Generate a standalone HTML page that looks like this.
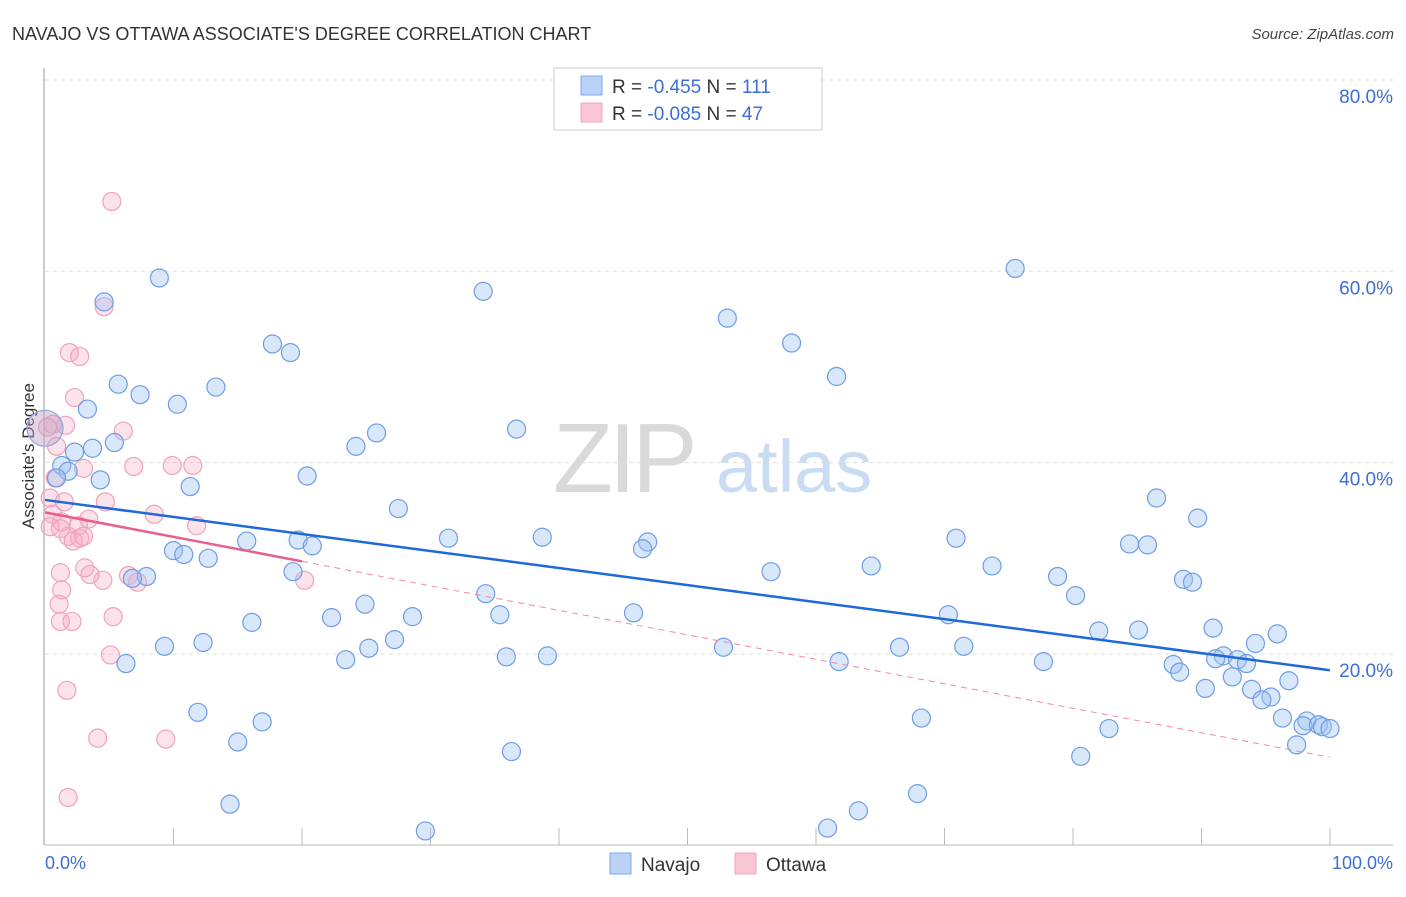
<!DOCTYPE html>
<html><head><meta charset="utf-8"><style>
body{margin:0;background:#fff;font-family:"Liberation Sans",sans-serif;}
svg text{font-family:"Liberation Sans",sans-serif;}
</style></head><body>
<svg width="1406" height="892" viewBox="0 0 1406 892">
<text x="12" y="40" font-size="18" fill="#333">NAVAJO VS OTTAWA ASSOCIATE'S DEGREE CORRELATION CHART</text>
<text x="1394" y="39" font-size="15" fill="#444" font-style="italic" text-anchor="end">Source: ZipAtlas.com</text>
<g>
<text x="553" y="492" font-size="98" fill="#d9d9d9" font-family="Liberation Serif" letter-spacing="-4">ZIP</text>
<text x="716" y="492" font-size="74" fill="#c9dcf3">atlas</text>
</g>
<g id="grid"></g>
<line x1="44" y1="68" x2="44" y2="845" stroke="#bbb" stroke-width="1.5"/>
<line x1="44" y1="845" x2="1393" y2="845" stroke="#bbb" stroke-width="1"/>
<g id="xticks"></g>
<text transform="translate(34,456) rotate(-90)" font-size="17" fill="#333" text-anchor="middle">Associate's Degree</text>
<text x="45" y="869" font-size="18" fill="#3b6fd4">0.0%</text>
<text x="1393" y="869" font-size="18" fill="#3b6fd4" text-anchor="end">100.0%</text>
<g id="pink"></g><g id="blue"></g><g id="trends"></g>
<g>
<rect x="554" y="68" width="268" height="62" fill="#fff" stroke="#ccc"/>
<rect x="581" y="76" width="21" height="19" fill="#b9d2f5" stroke="#7fa8e8"/>
<rect x="581" y="103" width="21" height="19" fill="#fbc6d4" stroke="#f2a6bb"/>
<text x="612" y="93" font-size="19" fill="#333">R = <tspan fill="#3b6fd4">-0.455</tspan>   N = <tspan fill="#3b6fd4">111</tspan></text>
<text x="612" y="120" font-size="19" fill="#333">R = <tspan fill="#3b6fd4">-0.085</tspan>   N = <tspan fill="#3b6fd4">47</tspan></text>
</g>
<g>
<rect x="610" y="853" width="21" height="21" fill="#b9d2f5" stroke="#7fa8e8"/>
<text x="641" y="871" font-size="19" fill="#333">Navajo</text></g>
<g>
<rect x="735" y="853" width="21" height="21" fill="#fbc6d4" stroke="#f2a6bb"/>
<text x="766" y="871" font-size="19" fill="#333">Ottawa</text></g>
</svg>
<script>
const yTicks=[20,40,60,80];
const yTickLabels=["20.0%","40.0%","60.0%","80.0%"];
const xTicks=[10,20,30,40,50,60,70,80,90,100];
const navajoX=[8.9,4.6,34.1,75.5,53.1,58.1,17.7,19.1,61.6,5.7,13.3,7.4,10.3,3.3,36.7,25.8,5.4,3.7,24.2,2.3,1.3,1.8,4.3,0.9,20.4,11.3,27.5,86.5,89.7,31.4,38.7,70.9,15.7,19.7,20.8,46.9,46.5,10.0,10.8,12.7,84.4,85.8,64.3,73.7,56.5,19.3,7.9,6.8,78.8,88.6,89.3,34.3,80.2,24.9,45.8,70.3,22.3,28.6,35.4,16.1,90.9,95.9,82.0,85.1,94.2,12.3,9.3,52.8,66.5,71.5,27.2,25.2,23.4,35.9,39.1,6.3,91.7,91.1,92.8,93.5,61.8,77.7,87.8,88.3,92.4,96.8,90.3,93.9,95.4,94.7,96.3,98.2,97.9,99.1,99.4,100,11.9,16.9,68.2,82.8,15.0,97.4,36.3,80.6,14.4,67.9,63.3,29.6,60.9];
const navajoY=[59.3,56.8,57.9,60.3,55.1,52.5,52.4,51.5,49.0,48.2,47.9,47.1,46.1,45.6,43.5,43.1,42.1,41.5,41.7,41.1,39.7,39.1,38.2,38.4,38.6,37.5,35.2,36.3,34.2,32.1,32.2,32.1,31.8,31.9,31.3,31.7,31.0,30.8,30.4,30.0,31.5,31.4,29.2,29.2,28.6,28.6,28.1,27.9,28.1,27.8,27.5,26.3,26.1,25.2,24.3,24.1,23.8,23.9,24.1,23.3,22.7,22.1,22.4,22.5,21.1,21.2,20.8,20.7,20.7,20.8,21.5,20.6,19.4,19.7,19.8,19.0,19.8,19.5,19.4,19.0,19.2,19.2,18.9,18.1,17.6,17.2,16.4,16.3,15.5,15.2,13.3,13.0,12.5,12.6,12.4,12.2,13.9,12.9,13.3,12.2,10.8,10.5,9.8,9.3,4.3,5.4,3.6,1.5,1.8];
const navajoBigX=[0];
const navajoBigY=[43.6];
const ottawaX=[5.2,4.6,1.9,2.7,2.3,0.6,1.6,0.2,6.1,0.9,6.9,9.9,11.5,3.0,0.8,0.4,1.5,4.7,8.5,3.4,11.8,0.6,1.3,2.6,1.8,2.7,2.2,3.0,1.2,3.1,1.2,4.5,3.5,6.5,7.2,20.2,1.3,1.1,1.2,2.1,5.3,5.1,1.7,4.1,9.4,1.8,0.4];
const ottawaY=[67.3,56.3,51.5,51.1,46.8,44.0,43.9,43.7,43.3,41.7,39.6,39.7,39.7,39.4,38.4,36.3,35.9,35.9,34.6,34.1,33.4,34.6,33.8,33.4,32.3,32.1,31.8,32.3,33.1,29.0,28.5,27.7,28.3,28.2,27.5,27.7,26.7,25.2,23.4,23.4,23.9,19.9,16.2,11.2,11.1,5.0,33.3];
const navajoTrend=[36.1,18.3];   // y at x=0 and x=100
const ottawaTrend=[34.8,9.2];
const ottawaSolidEnd=20;

const sx=v=>45+v*12.85;
const sy=v=>845.3-v*9.567;
const NS="http://www.w3.org/2000/svg";
function mk(tag,attrs,parent){const e=document.createElementNS(NS,tag);for(const k in attrs)e.setAttribute(k,attrs[k]);parent.appendChild(e);return e;}
const grid=document.getElementById('grid');
yTicks.forEach((t,i)=>{
  const l=mk('line',{x1:45,x2:1393,y1:sy(t),y2:sy(t),stroke:'#ddd','stroke-dasharray':'4,4'},grid);
  
  
  const tx=mk('text',{x:1393,y:sy(t)+23,'font-size':19,fill:'#3b6fd4','text-anchor':'end'},grid);
  tx.textContent=yTickLabels[i];
  
  
});
const xt=document.getElementById('xticks');
xTicks.forEach(t=>{
  const l=mk('line',{x1:sx(t),x2:sx(t),y1:828,y2:845,stroke:'#bbb'},xt);
  
  
});
const blue=document.getElementById('blue'),pink=document.getElementById('pink');
ottawaX.forEach((x,i)=>{
  const c=mk('circle',{cx:sx(x),cy:sy(ottawaY[i]),r:9,fill:'rgba(246,172,194,0.35)',stroke:'#f0a3bb','stroke-width':1.2},pink);
  
  
});
navajoX.forEach((x,i)=>{
  const c=mk('circle',{cx:sx(x),cy:sy(navajoY[i]),r:9,fill:'rgba(160,196,242,0.4)',stroke:'#6e9de4','stroke-width':1.2},blue);
  
  
});
navajoBigX.forEach((x,i)=>{
  const c=mk('circle',{cx:sx(x),cy:sy(navajoBigY[i]),r:18,fill:'rgba(190,160,200,0.45)',stroke:'#8fa8e0','stroke-width':1.2},blue);
  
  
});
const tr=document.getElementById('trends');
const oy=x=>ottawaTrend[0]+(ottawaTrend[1]-ottawaTrend[0])*x/100;
let l1=mk('line',{x1:sx(ottawaSolidEnd),y1:sy(oy(ottawaSolidEnd)),x2:sx(100),y2:sy(ottawaTrend[1]),stroke:'#f08aa8','stroke-width':1,'stroke-dasharray':'6,5'},tr);


let l2=mk('line',{x1:sx(0),y1:sy(ottawaTrend[0]),x2:sx(ottawaSolidEnd),y2:sy(oy(ottawaSolidEnd)),stroke:'#e8608a','stroke-width':2.5},tr);


let l3=mk('line',{x1:sx(0),y1:sy(navajoTrend[0]),x2:sx(100),y2:sy(navajoTrend[1]),stroke:'#1f68d8','stroke-width':2.5},tr);


</script>
</body></html>
